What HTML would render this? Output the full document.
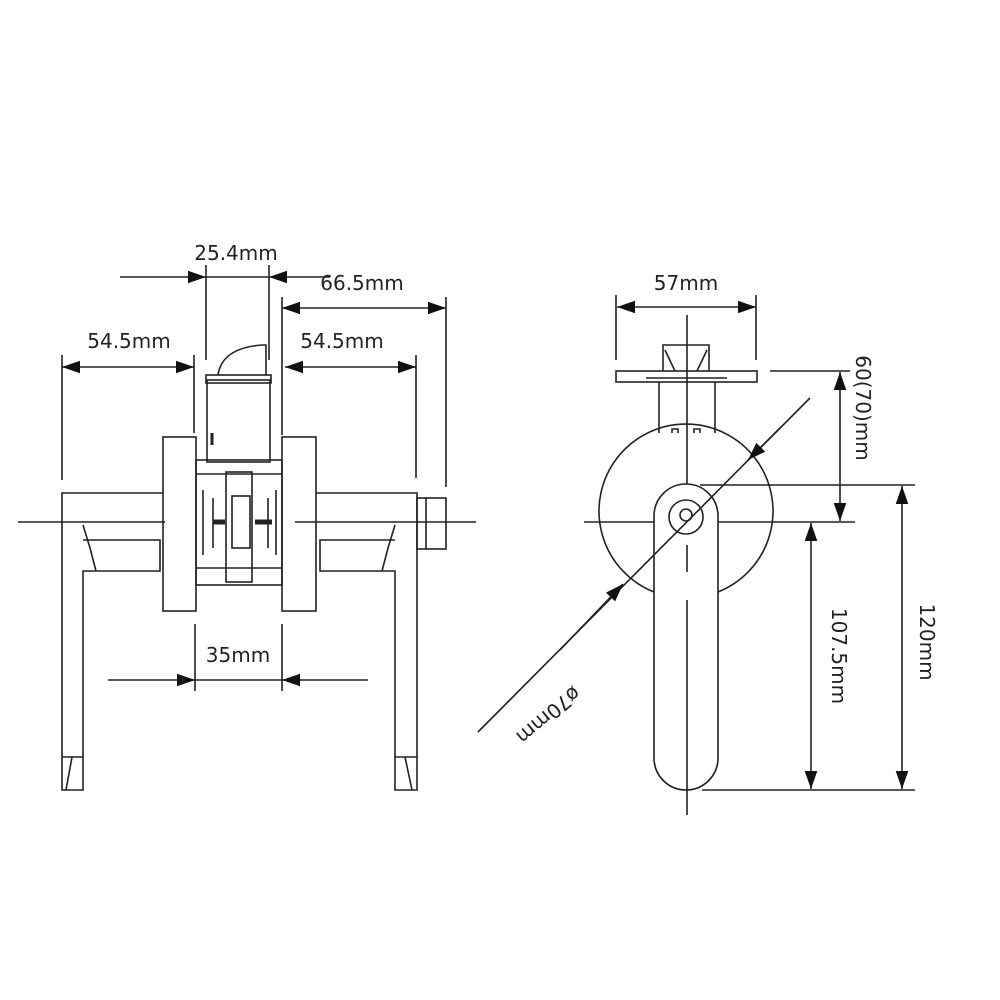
<!DOCTYPE html>
<html><head><meta charset="utf-8"><style>
html,body{margin:0;padding:0;background:#fff}
svg{display:block}
text{font-family:"DejaVu Sans","Liberation Sans",sans-serif;font-size:20px;fill:#222}
</style></head><body>
<svg width="1000" height="1000" viewBox="0 0 1000 1000" xmlns="http://www.w3.org/2000/svg">
<defs>
<marker id="a" viewBox="0 0 10 10" refX="10" refY="5" markerWidth="28" markerHeight="18" markerUnits="userSpaceOnUse" orient="auto-start-reverse"><path d="M0,1.5 L10,5 L0,8.5 z" fill="#111"/></marker>
</defs>
<g stroke="#222" stroke-width="1.6" fill="none">
<!-- LEFT VIEW -->
<line x1="18" y1="522" x2="165" y2="522"/>
<line x1="295" y1="522" x2="476" y2="522"/>
<!-- left handle -->
<path d="M163,493 H62 V790 H83 V571 H160 V540 H83"/>
<path d="M62,757 H83 M66,790 L72,757 M83,525 L90,548 L96,571"/>
<!-- right handle -->
<path d="M316,493 H417 V790 H395 V571 H320 V540 H395"/>
<path d="M395,757 H417 M412,790 L405,757 M395,525 L388,548 L382,571"/>
<!-- cylinder -->
<rect x="417" y="498" width="29" height="51"/>
<line x1="426" y1="498" x2="426" y2="549"/>
<!-- roses -->
<rect x="163" y="437" width="33" height="174"/>
<rect x="282" y="437" width="34" height="174"/>
<!-- latch -->
<rect x="207" y="380" width="63" height="82"/>
<rect x="206" y="375" width="65" height="8"/>
<path d="M218,375 Q222,348 262,345 L266,345 L266,375"/>
<line x1="212" y1="433" x2="212" y2="445" stroke-width="3"/>
<!-- mechanism -->
<rect x="196" y="460" width="86" height="125"/>
<rect x="226" y="472" width="26" height="110"/>
<rect x="232" y="496" width="18" height="52"/>
<line x1="203" y1="490" x2="203" y2="555"/>
<line x1="213" y1="498" x2="213" y2="548"/>
<line x1="213" y1="522" x2="225" y2="522" stroke-width="5"/>
<line x1="255" y1="522" x2="272" y2="522" stroke-width="5"/>
<line x1="268" y1="498" x2="268" y2="548"/>
<line x1="276" y1="490" x2="276" y2="555"/>
<line x1="196" y1="474" x2="282" y2="474"/>
<line x1="196" y1="568" x2="282" y2="568"/>
<!-- dims left -->
<line x1="206" y1="265" x2="206" y2="360"/>
<line x1="269" y1="265" x2="269" y2="360"/>
<line x1="120" y1="277" x2="206" y2="277" marker-end="url(#a)"/>
<line x1="206" y1="277" x2="269" y2="277"/>
<line x1="330" y1="277" x2="269" y2="277" marker-end="url(#a)"/>
<line x1="282" y1="297" x2="282" y2="435"/>
<line x1="446" y1="297" x2="446" y2="487"/>
<line x1="282" y1="308" x2="446" y2="308" marker-start="url(#a)" marker-end="url(#a)"/>
<line x1="62" y1="355" x2="62" y2="480"/>
<line x1="194" y1="355" x2="194" y2="433"/>
<line x1="62" y1="367" x2="194" y2="367" marker-start="url(#a)" marker-end="url(#a)"/>
<line x1="416" y1="355" x2="416" y2="478"/>
<line x1="285" y1="367" x2="416" y2="367" marker-start="url(#a)" marker-end="url(#a)"/>
<line x1="195" y1="624" x2="195" y2="691"/>
<line x1="282" y1="624" x2="282" y2="691"/>
<line x1="108" y1="680" x2="195" y2="680" marker-end="url(#a)"/>
<line x1="195" y1="680" x2="282" y2="680"/>
<line x1="368" y1="680" x2="282" y2="680" marker-end="url(#a)"/>

<!-- RIGHT VIEW -->
<line x1="687" y1="315" x2="687" y2="490"/>
<line x1="584" y1="522" x2="855" y2="522"/>
<path d="M654,592 A87,87 0 1 1 718,592"/>
<rect x="616" y="371" width="141" height="11"/>
<line x1="646" y1="378" x2="727" y2="378"/>
<path d="M663,371 V345 H709 V371 M665,350 L675,371 M707,350 L697,371"/>
<line x1="659" y1="382" x2="659" y2="433"/>
<line x1="715" y1="382" x2="715" y2="433"/>
<path d="M672,433 v-4 h6 v4 M694,433 v-4 h6 v4"/>
<path d="M654,516 A32,32 0 0 1 718,516 V758 A32,32 0 0 1 654,758 Z" fill="#fff"/>
<line x1="687" y1="600" x2="687" y2="815"/>
<line x1="687" y1="545" x2="687" y2="572"/>
<circle cx="686" cy="517" r="17"/>
<circle cx="686" cy="515" r="6"/>
<line x1="478" y1="732" x2="810" y2="398"/>
<line x1="560" y1="650" x2="623" y2="584" marker-end="url(#a)"/>
<line x1="780" y1="428" x2="748" y2="460" marker-end="url(#a)"/>
<!-- 57mm -->
<line x1="616" y1="295" x2="616" y2="360"/>
<line x1="756" y1="295" x2="756" y2="360"/>
<line x1="617" y1="307" x2="756" y2="307" marker-start="url(#a)" marker-end="url(#a)"/>
<!-- 60(70) -->
<line x1="770" y1="371" x2="850" y2="371"/>
<line x1="840" y1="372" x2="840" y2="521" marker-start="url(#a)" marker-end="url(#a)"/>
<line x1="700" y1="485" x2="915" y2="485"/>
<line x1="702" y1="790" x2="915" y2="790"/>
<line x1="902" y1="486" x2="902" y2="789" marker-start="url(#a)" marker-end="url(#a)"/>
<line x1="811" y1="523" x2="811" y2="789" marker-start="url(#a)" marker-end="url(#a)"/>
</g>
<text x="236" y="260" text-anchor="middle">25.4mm</text>
<text x="362" y="290" text-anchor="middle">66.5mm</text>
<text x="129" y="348" text-anchor="middle">54.5mm</text>
<text x="342" y="348" text-anchor="middle">54.5mm</text>
<text x="238" y="662" text-anchor="middle">35mm</text>
<text x="686" y="290" text-anchor="middle">57mm</text>
<text transform="translate(856,408) rotate(90)" text-anchor="middle">60(70)mm</text>
<text transform="translate(832,656) rotate(90)" text-anchor="middle">107.5mm</text>
<text transform="translate(920,642) rotate(90)" text-anchor="middle">120mm</text>
<text transform="translate(544,710) rotate(140)" text-anchor="middle">ø70mm</text>
</svg>
</body></html>
